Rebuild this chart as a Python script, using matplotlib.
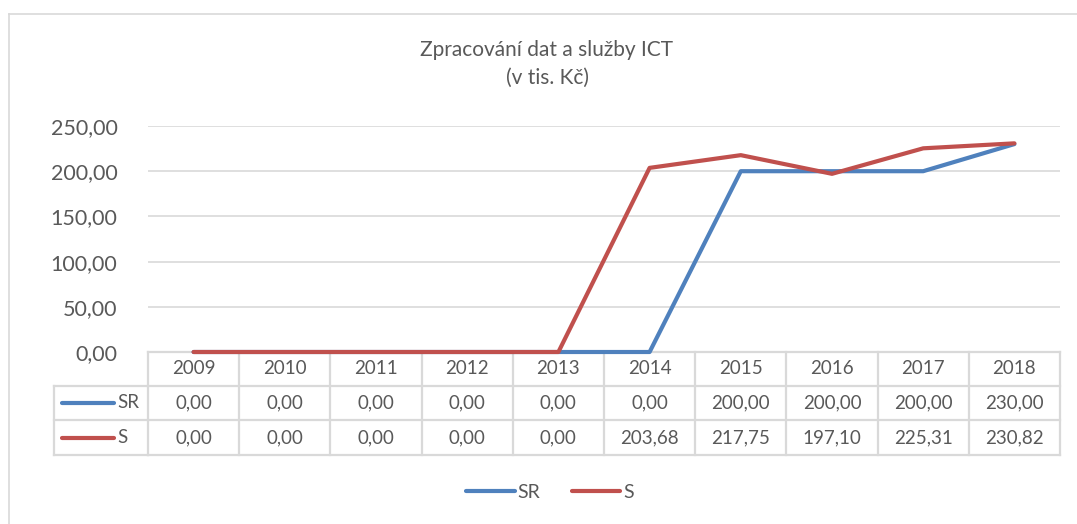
import matplotlib
matplotlib.use("Agg")
import matplotlib.pyplot as plt
from matplotlib.lines import Line2D
import matplotlib.transforms as mtransforms

years = ["2009", "2010", "2011", "2012", "2013", "2014", "2015", "2016", "2017", "2018"]
sr = [0.00, 0.00, 0.00, 0.00, 0.00, 0.00, 200.00, 200.00, 200.00, 230.00]
s = [0.00, 0.00, 0.00, 0.00, 0.00, 203.68, 217.75, 197.10, 225.31, 230.82]
series_names = ["SR", "S"]
yticks = [0, 50, 100, 150, 200, 250]
title = "Zpracování dat a služby ICT\n(v tis. Kč)"

BLUE = "#4F81BD"
RED = "#C0504D"
TXT = "#595959"
GRID = "#D9D9D9"

plt.rcParams['font.family'] = ['Lato', 'DejaVu Sans']

W, H = 1077, 524
fig = plt.figure(figsize=(W / 100, H / 100), dpi=100)

def fx(px):
    return px / W

def fy(py):
    return 1 - py / H

# outer chart border (top + left visible)
fig.add_artist(Line2D([fx(8.5), fx(8.5)], [fy(13.5), fy(524)], color=GRID, lw=1.2, zorder=0))
fig.add_artist(Line2D([fx(8.5), fx(1077)], [fy(13.5), fy(13.5)], color=GRID, lw=1.2, zorder=0))

ax = fig.add_axes([fx(148), fy(352), fx(1060) - fx(148), fy(126) - fy(352)])
ax.set_zorder(5)
ax.patch.set_alpha(0)
x = list(range(len(years)))
ax.plot(x, sr, color=BLUE, lw=3, solid_capstyle='round', solid_joinstyle='round', zorder=3, clip_on=False)
ax.plot(x, s, color=RED, lw=3, solid_capstyle='round', solid_joinstyle='round', zorder=3, clip_on=False)
ax.set_xlim(-0.5, len(years) - 0.5)
ax.set_ylim(0, 250)
ax.set_yticks(yticks)
ax.set_yticklabels([f"{v:.2f}".replace(".", ",") for v in yticks], color=TXT, fontsize=15.5)
ax.tick_params(axis='y', length=0, pad=22)
ax.set_xticks([])
for sp in ax.spines.values():
    sp.set_visible(False)
ax.grid(axis='y', color=GRID, lw=1.2)
ax.set_axisbelow(True)

fig.text(fx(547), fy(64), title, ha='center', va='center', fontsize=15, color=TXT, linespacing=1.45)

# data table
trans = mtransforms.blended_transform_factory(ax.transData, fig.transFigure)
ftrans = fig.transFigure
row_y = [352, 386, 420, 455]  # pixel row boundaries
n = len(years)
lc = GRID
lw = 1.6
fig.add_artist(Line2D([-0.5, n - 0.5], [fy(row_y[0]), fy(row_y[0])], transform=trans, color=lc, lw=lw, zorder=1))
for ry in row_y[1:]:
    fig.add_artist(Line2D([fx(54), fx(148)], [fy(ry), fy(ry)], transform=ftrans, color=lc, lw=lw, zorder=1))
    fig.add_artist(Line2D([-0.5, n - 0.5], [fy(ry), fy(ry)], transform=trans, color=lc, lw=lw, zorder=1))
for i in range(n + 1):
    fig.add_artist(Line2D([i - 0.5, i - 0.5], [fy(row_y[0]), fy(row_y[-1])], transform=trans, color=lc, lw=lw, zorder=1))
fig.add_artist(Line2D([fx(54), fx(54)], [fy(row_y[1]), fy(row_y[-1])], transform=ftrans, color=lc, lw=lw, zorder=1))

def fmt(v):
    return f"{v:.2f}".replace(".", ",")

TFS = 13.5
for i, yr in enumerate(years):
    fig.text(i, fy((row_y[0] + row_y[1]) / 2), yr, transform=trans, ha='center', va='center', fontsize=TFS, color=TXT)
    fig.text(i, fy((row_y[1] + row_y[2]) / 2), fmt(sr[i]), transform=trans, ha='center', va='center', fontsize=TFS, color=TXT)
    fig.text(i, fy((row_y[2] + row_y[3]) / 2), fmt(s[i]), transform=trans, ha='center', va='center', fontsize=TFS, color=TXT)

for k, (name, col) in enumerate(zip(series_names, [BLUE, RED])):
    yc = fy((row_y[k + 1] + row_y[k + 2]) / 2)
    fig.add_artist(Line2D([fx(62), fx(114)], [yc, yc], transform=ftrans, color=col, lw=3, solid_capstyle='round'))
    fig.text(fx(117), yc, name, ha='left', va='center', fontsize=TFS, color=TXT)

# legend
handles = [Line2D([], [], color=BLUE, lw=3, solid_capstyle='round'),
           Line2D([], [], color=RED, lw=3, solid_capstyle='round')]
fig.legend(handles, series_names, loc='center', bbox_to_anchor=(fx(550), fy(492)), ncol=2,
           frameon=False, fontsize=14, labelcolor=TXT, handlelength=2.5, handletextpad=0.15,
           columnspacing=1.6)

fig.savefig("out.png", dpi=100)
